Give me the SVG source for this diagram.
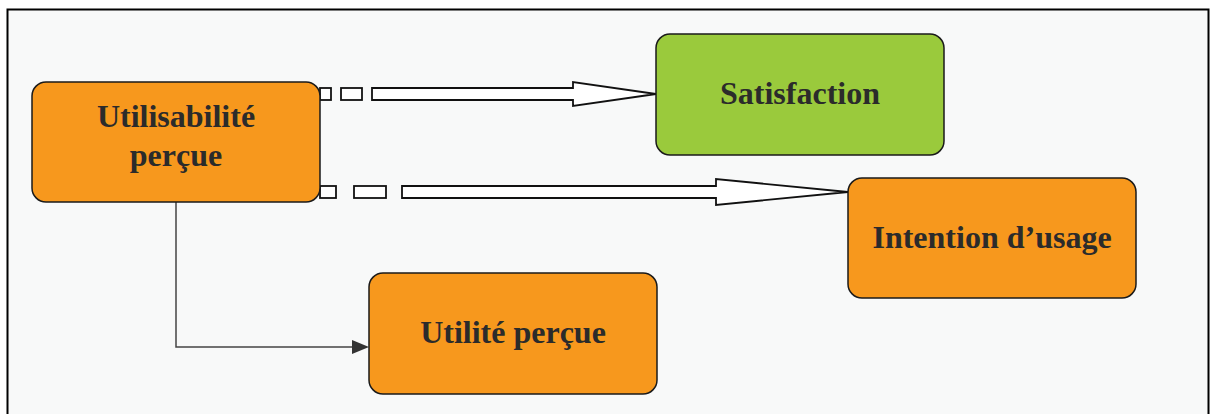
<svg xmlns="http://www.w3.org/2000/svg" width="1215" height="414" viewBox="0 0 1215 414">
<style>
.node{stroke:#1a1a1a;stroke-width:1.5}
.orange{fill:#f7981d}
.green{fill:#9aca3c}
.lbl{font-family:"Liberation Serif","Times New Roman",serif;font-weight:bold;font-size:32px;fill:#2b2b2b;text-anchor:middle}
.blk{fill:#ffffff;stroke:#111;stroke-width:1.8}
</style>
<rect x="0" y="0" width="1215" height="414" fill="#ffffff"/>
<rect x="7.5" y="9.5" width="1201" height="420" fill="#f8f9f9" stroke="#000" stroke-width="2"/>
<g id="connectors">
<path d="M176,202 V347 H352" fill="none" stroke="#444" stroke-width="1.5"/>
<path d="M352,340 L369,347 L352,354 z" fill="#333"/>
<rect class="blk" x="320" y="88" width="11" height="12"/>
<rect class="blk" x="341" y="88" width="21" height="12"/>
<path class="blk" d="M372,88 H573 V82 L656,94 L573,106 V100 H372 z"/>
<rect class="blk" x="320" y="186" width="16" height="12"/>
<rect class="blk" x="354" y="186" width="32" height="12"/>
<path class="blk" d="M402,186 H716 V179 L848,192 L716,205 V198 H402 z"/>
</g>
<g id="n-utilisabilite">
<rect class="node orange" x="32" y="82" width="288" height="120" rx="14"/>
<text class="lbl" x="176" y="127">Utilisabilité</text>
<text class="lbl" x="176" y="166">perçue</text>
</g>
<g id="n-satisfaction">
<rect class="node green" x="656" y="34" width="288" height="121" rx="14"/>
<text class="lbl" x="800" y="104">Satisfaction</text>
</g>
<g id="n-intention">
<rect class="node orange" x="848" y="178" width="288" height="120" rx="14"/>
<text class="lbl" x="992" y="248">Intention d’usage</text>
</g>
<g id="n-utilite">
<rect class="node orange" x="369" y="273" width="288" height="121" rx="14"/>
<text class="lbl" x="513" y="343">Utilité perçue</text>
</g>
</svg>
